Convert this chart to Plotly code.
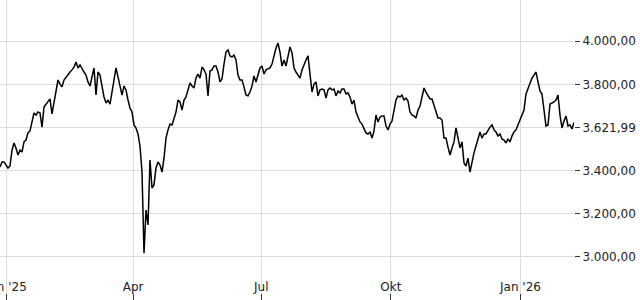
import pandas as pd
import plotly.graph_objects as go

# Index level readings (sampled regularly over the displayed period)
start_time = "2024-12-27 12:00"
end_time = "2026-02-08 00:00"
values = [
    3415, 3439, 3439, 3425, 3411, 3420, 3494, 3527, 3504, 3471,
    3494, 3485, 3532, 3541, 3574, 3583, 3620, 3667, 3657, 3671,
    3667, 3601, 3694, 3708, 3722, 3732, 3662, 3718, 3755, 3820,
    3801, 3788, 3820, 3834, 3843, 3857, 3867, 3880, 3904, 3876,
    3890, 3871, 3857, 3843, 3811, 3792, 3829, 3876, 3750, 3857,
    3843, 3788, 3741, 3713, 3727, 3708, 3774, 3820, 3876, 3829,
    3788, 3750, 3792, 3774, 3727, 3690, 3671, 3611, 3597, 3569,
    3513, 3392, 3015, 3215, 3146, 3448, 3318, 3332, 3411, 3439,
    3425, 3392, 3457, 3550, 3588, 3615, 3611, 3643, 3671, 3727,
    3718, 3680, 3727, 3741, 3774, 3806, 3792, 3783, 3829, 3848,
    3829, 3880, 3867, 3848, 3746, 3862, 3867, 3885, 3885, 3857,
    3811, 3825, 3894, 3950, 3960, 3932, 3927, 3936, 3913, 3843,
    3820, 3820, 3788, 3750, 3746, 3764, 3792, 3839, 3811, 3839,
    3876, 3885, 3848, 3867, 3871, 3876, 3894, 3932, 3969, 3992,
    3950, 3885, 3913, 3885, 3932, 3974, 3946, 3876, 3857, 3843,
    3829, 3867, 3894, 3913, 3932, 3829, 3764, 3801, 3811, 3746,
    3774, 3778, 3774, 3736, 3774, 3783, 3774, 3778, 3746, 3769,
    3760, 3778, 3778, 3755, 3760, 3741, 3708, 3727, 3671, 3648,
    3625, 3615, 3597, 3574, 3569, 3578, 3550, 3583, 3657, 3625,
    3648, 3653, 3653, 3606, 3588, 3615, 3629, 3671, 3727, 3746,
    3741, 3750, 3727, 3736, 3722, 3671, 3657, 3653, 3643, 3680,
    3699, 3741, 3783, 3764, 3746, 3732, 3732, 3699, 3671, 3643,
    3643, 3634, 3550, 3550, 3508, 3471, 3504, 3532, 3597, 3550,
    3504, 3532, 3434, 3420, 3457, 3392, 3439, 3481, 3513, 3550,
    3578, 3550, 3569, 3569, 3588, 3601, 3611, 3588, 3578, 3560,
    3569, 3546, 3541, 3527, 3546, 3532, 3560, 3578, 3588, 3611,
    3639, 3657, 3680, 3755, 3783, 3806, 3829, 3843, 3857, 3811,
    3769, 3755, 3680, 3606, 3611, 3708, 3713, 3718, 3727, 3750,
    3657, 3597, 3629, 3653, 3606, 3611, 3592, 3621.99,
]
tick_dates = ["2025-01-01", "2025-04-01", "2025-07-01", "2025-10-01", "2026-01-01"]
tick_labels = ["Jan '25", "Apr", "Jul", "Okt", "Jan '26"]
y_ticks = [3000, 3200, 3400, 3600, 3800, 4000]
y_labels = ["3.000,00", "3.200,00", "3.400,00", "3.621,99", "3.800,00", "4.000,00"]
y_range = [2797, 4192]

dates = pd.date_range(start_time, end_time, periods=len(values))

fig = go.Figure()
fig.add_trace(go.Scatter(
    x=dates, y=values, mode="lines",
    line=dict(color="#000000", width=1.5),
    hoverinfo="skip", showlegend=False,
))

font = dict(family="DejaVu Sans", size=12, color="#222222")
fig.update_layout(
    width=640, height=300,
    margin=dict(l=0, r=66, t=0, b=0, autoexpand=False),
    paper_bgcolor="white", plot_bgcolor="white",
    font=font,
    xaxis=dict(
        type="date", automargin=False,
        range=[dates[0], dates[-1]],
        tickmode="array", tickvals=tick_dates, ticktext=tick_labels,
        ticklabelposition="inside", ticklabeloverflow="allow",
        ticks="inside", ticklen=6, tickcolor="#333333",
        showgrid=True, gridcolor="#dcdcdc", gridwidth=1,
        zeroline=False, showline=False, tickfont=font,
    ),
    yaxis=dict(
        side="right", range=y_range, automargin=False,
        tickmode="array", tickvals=y_ticks, ticktext=y_labels,
        ticks="outside", ticklen=5, tickcolor="#333333",
        showgrid=True, gridcolor="#dcdcdc", gridwidth=1,
        zeroline=False, showline=False, tickfont=font,
    ),
)

fig.write_html("out.html")
